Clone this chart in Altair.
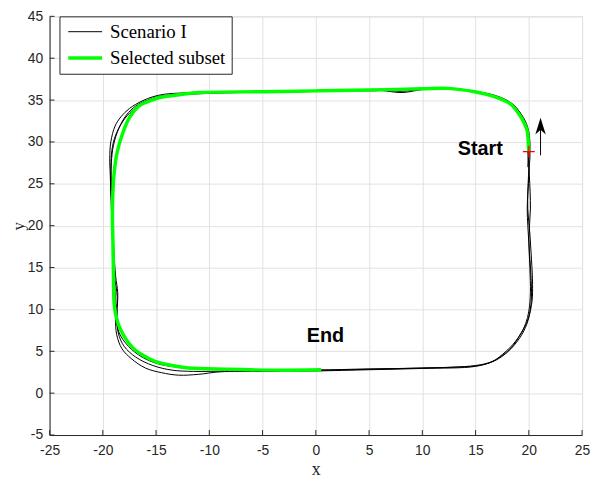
import altair as alt
import pandas as pd

# ---------------- data ----------------
lap1_x = [20.0, 20.0, 19.9, 19.6, 19.0, 18.3, 17.3, 16.0, 14.5, 12.4, 10.0, 8.1, 6.5, 0.0, -5.0, -10.0, -12.5, -14.5, -15.8, -16.9, -17.8, -18.5, -19.0, -19.2, -19.2, -19.1, -19.0, -18.85, -18.8, -18.5, -17.6, -16.3, -14.8, -13.0, -11.0, -8.0, -4.0, 0.0, 5.0, 10.0, 13.0, 15.0, 16.5, 17.5, 18.4, 19.2, 19.8, 20.1, 20.25, 20.2, 20.0, 19.85, 20.0, 20.0]
lap1_y = [28.8, 30.0, 31.4, 32.4, 33.6, 34.6, 35.3, 35.75, 36.1, 36.35, 36.3, 36.05, 36.15, 36.1, 36.0, 35.85, 35.7, 35.5, 35.0, 34.3, 33.2, 31.6, 29.6, 27.5, 24.0, 20.0, 16.0, 12.0, 9.5, 7.3, 5.6, 4.3, 3.5, 3.1, 2.9, 2.8, 2.75, 2.75, 2.85, 3.0, 3.1, 3.25, 3.7, 4.4, 5.4, 6.7, 8.2, 9.7, 11.5, 14.0, 18.0, 22.0, 26.0, 28.8]

lap2_x = [20.1, 20.1, 19.95, 19.5, 18.7, 17.8, 16.5, 14.5, 12.5, 10.0, 8.1, 6.0, 0.0, -5.0, -10.0, -12.5, -14.2, -15.3, -16.3, -17.5, -18.3, -18.85, -19.25, -19.35, -19.3, -19.2, -19.05, -18.9, -18.65, -18.8, -18.7, -18.2, -17.3, -16.0, -14.5, -12.9, -11.0, -9.0, -5.0, 0.0, 5.0, 10.0, 15.0, 16.6, 17.5, 18.5, 19.3, 19.95, 20.3, 20.35, 20.25, 20.1, 19.9, 19.95, 20.1]
lap2_y = [28.0, 30.0, 31.5, 32.9, 34.2, 35.0, 35.6, 36.15, 36.4, 36.25, 35.9, 36.15, 36.15, 36.05, 35.95, 35.85, 35.7, 35.4, 34.9, 34.0, 33.0, 31.9, 30.0, 28.0, 26.0, 22.0, 18.0, 14.0, 11.5, 9.0, 7.0, 5.3, 4.1, 3.0, 2.45, 2.15, 2.25, 2.55, 2.6, 2.65, 2.8, 2.95, 3.2, 3.8, 4.6, 5.8, 7.2, 8.9, 11.0, 13.0, 16.0, 19.0, 22.0, 25.5, 28.0]

lap3_x = [19.9, 19.95, 19.8, 19.35, 18.6, 17.4, 15.5, 13.0, 10.0, 5.0, 0.0, -5.0, -10.0, -13.0, -14.8, -16.1, -17.2, -18.1, -18.8, -19.15, -19.25, -19.15, -19.0, -18.8, -18.6, -18.65, -18.55, -18.0, -16.9, -15.3, -13.5, -11.5, -8.0, -3.0, 0.0, 5.0, 10.0, 15.0, 16.5, 17.4, 18.4, 19.1, 19.7, 20.0, 20.15, 20.1, 20.0, 20.15, 20.05, 19.9]
lap3_y = [27.0, 30.2, 31.6, 33.1, 34.4, 35.3, 35.95, 36.3, 36.3, 36.1, 36.05, 35.95, 35.8, 35.6, 35.3, 34.7, 33.8, 32.5, 30.8, 29.0, 26.0, 22.0, 18.0, 14.0, 12.0, 9.5, 7.2, 5.6, 4.3, 3.3, 2.75, 2.6, 2.65, 2.7, 2.75, 2.9, 3.0, 3.3, 3.75, 4.4, 5.5, 6.8, 8.3, 9.8, 12.0, 15.0, 18.5, 22.0, 26.0, 29.0]

green_x = [20.0, 19.95, 19.85, 19.55, 19.2, 18.3, 17.5, 16.7, 14.9, 12.4, 10.0, 5.0, 0.0, -5.0, -11.0, -12.5, -14.0, -14.8, -16.0, -16.6, -17.5, -18.2, -18.65, -18.95, -19.1, -19.05, -19.0, -18.95, -18.8, -18.3, -17.25, -16.2, -15.1, -13.5, -12.0, -8.3, -3.6, 0.5]
green_y = [28.8, 30.0, 31.3, 32.3, 33.1, 34.5, 35.05, 35.45, 36.0, 36.4, 36.35, 36.2, 36.1, 36.0, 35.9, 35.7, 35.45, 35.25, 34.7, 34.3, 32.9, 30.8, 28.8, 26.1, 21.8, 18.0, 14.0, 11.0, 9.45, 7.5, 5.5, 4.5, 3.8, 3.3, 3.0, 2.85, 2.75, 2.8]

series_names = ["Scenario I", "Selected subset"]
series_colors = ["#000000", "#00ff00"]
series_widths = [1.0, 3.5]

start_x = [20.0]
start_y = [28.84]
arrow_x = [21.1, 21.1]
arrow_y = [28.4, 32.0]
arrow_head_x = [21.1]
arrow_head_y = [31.9]

labels_text = ["Start", "End"]
labels_x = [15.45, 0.9]
labels_y = [29.1, 6.77]

x_ticks = [-25, -20, -15, -10, -5, 0, 5, 10, 15, 20, 25]
y_ticks = [-5, 0, 5, 10, 15, 20, 25, 30, 35, 40, 45]

# ---------------- tables ----------------
rows = []
for lap, (xs_, ys_) in enumerate([(lap1_x, lap1_y), (lap2_x, lap2_y), (lap3_x, lap3_y)]):
    for i, (a, b) in enumerate(zip(xs_, ys_)):
        rows.append({"series": series_names[0], "lap": f"lap{lap+1}", "i": i, "x": a, "y": b})
black_df = pd.DataFrame(rows)
green_df = pd.DataFrame({"series": series_names[1], "lap": "sel", "i": range(len(green_x)),
                         "x": green_x, "y": green_y})

W, H = 538, 423

xs = alt.Scale(domain=[-25, 25], nice=False, zero=False)
ys = alt.Scale(domain=[-5, 45], nice=False, zero=False)

color_scale = alt.Scale(domain=series_names, range=series_colors)
width_scale = alt.Scale(domain=series_names, range=series_widths)

legend = alt.Legend(
    orient="none", legendX=10, legendY=0, title=None,
    strokeColor="#262626", fillColor="white", padding=6,
    symbolType="M-1.9,0L1.9,0", symbolSize=324, symbolOffset=9,
    labelOffset=14, labelFont="Liberation Serif", labelFontSize=19,
    labelColor="black", rowPadding=5, labelLimit=300,
)

x_axis = alt.Axis(values=x_ticks, grid=True, gridColor="#e2e2e2", ticks=False,
                  domainColor="#262626", labelFont="Liberation Sans", labelFontSize=14,
                  labelColor="#262626", labelPadding=9, labelFlush=False,
                  labelExpr="'' + datum.value", title="x",
                  titleFont="Liberation Serif", titleFontSize=18, titleFontWeight="normal",
                  titleColor="#262626", titlePadding=3)
y_axis = alt.Axis(values=y_ticks, grid=True, gridColor="#e2e2e2", ticks=False,
                  domainColor="#262626", labelFont="Liberation Sans", labelFontSize=14,
                  labelColor="#262626", labelPadding=7, labelFlush=False,
                  labelExpr="'' + datum.value", title="y",
                  titleFont="Liberation Serif", titleFontSize=17, titleFontWeight="normal",
                  titleColor="#262626", titlePadding=0)

def path_layer(df):
    return alt.Chart(df).mark_line(interpolate="catmull-rom").encode(
        x=alt.X("x:Q", scale=xs, axis=x_axis),
        y=alt.Y("y:Q", scale=ys, axis=y_axis),
        color=alt.Color("series:N", scale=color_scale, legend=legend),
        strokeWidth=alt.StrokeWidth("series:N", scale=width_scale, legend=legend),
        detail="lap:N",
        order="i:Q",
    )

black = path_layer(black_df)
green = path_layer(green_df)

# inner tick marks (MATLAB style)
xt = alt.Chart(pd.DataFrame({"t": x_ticks})).mark_rule(color="#262626", strokeWidth=1).encode(
    x=alt.X("t:Q", scale=xs), y=alt.value(H), y2=alt.value(H - 5))
yt = alt.Chart(pd.DataFrame({"t": y_ticks})).mark_rule(color="#262626", strokeWidth=1).encode(
    y=alt.Y("t:Q", scale=ys), x=alt.value(0), x2=alt.value(5))

start = alt.Chart(pd.DataFrame({"x": start_x, "y": start_y})).mark_point(
    shape="M-1,0L1,0M0,-1L0,1", size=144, stroke="red", strokeWidth=1.2, filled=False,
    opacity=1
).encode(x=alt.X("x:Q", scale=xs), y=alt.Y("y:Q", scale=ys))

arrow = alt.Chart(pd.DataFrame({"x": arrow_x, "y": arrow_y})).mark_line(
    color="black", strokeWidth=1
).encode(x=alt.X("x:Q", scale=xs), y=alt.Y("y:Q", scale=ys))

head = alt.Chart(pd.DataFrame({"x": arrow_head_x, "y": arrow_head_y})).mark_point(
    shape="M0,-1L0.62,1L0,0.45L-0.62,1Z", size=289, filled=True, color="black",
    opacity=1, strokeWidth=0
).encode(x=alt.X("x:Q", scale=xs), y=alt.Y("y:Q", scale=ys))

txt = alt.Chart(pd.DataFrame({"t": labels_text, "x": labels_x, "y": labels_y})).mark_text(
    font="Liberation Sans", fontSize=20, fontWeight="bold", color="black",
    align="center", baseline="middle"
).encode(x=alt.X("x:Q", scale=xs), y=alt.Y("y:Q", scale=ys), text="t:N")

chart = alt.layer(xt, yt, black, green, arrow, head, start, txt).resolve_scale(
    color="shared", strokeWidth="shared"
).properties(
    width=W, height=H,
    autosize=alt.AutoSizeParams(type="none"),
    padding={"left": 42, "top": 6, "right": 8, "bottom": 44},
).configure_view(
    stroke="#262626", strokeWidth=1
).configure(background="white")

chart.save("out.html", embed_options={"renderer": "svg", "actions": False})
